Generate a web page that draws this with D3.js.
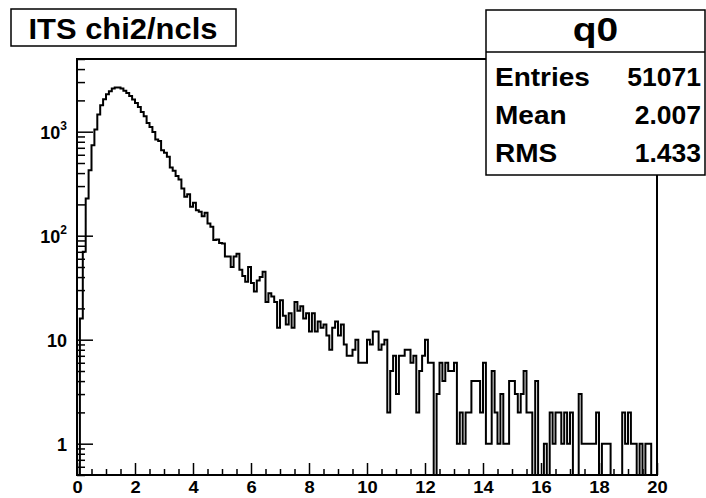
<!DOCTYPE html>
<html>
<head>
<meta charset="utf-8">
<script src="https://cdn.jsdelivr.net/npm/d3@7"></script>
<style>
  body { margin: 0; background: #fff; }
  text { font-family: "Liberation Sans", Arial, sans-serif; font-weight: bold; fill: #000; }
</style>
</head>
<body>
<svg id="chart" width="706" height="498"></svg>
<script>
// histogram q0: 200 bins from 0 to 20
const xLimits = [0, 20];
const counts = [
  0, 16, 70, 228, 426, 742, 1050, 1463, 1798, 2054,
  2294, 2450, 2600, 2660, 2660, 2600, 2470, 2360, 2210, 2035,
  1890, 1730, 1550, 1408, 1215, 1112, 995, 840, 815, 664,
  626, 573, 453, 421, 374, 347, 285, 237, 251, 190,
  207, 176, 170, 154, 166, 131, 122, 91, 92, 85,
  84, 63, 63, 50, 63, 67, 47, 41, 36, 50,
  35, 29, 37, 40, 45, 23, 28, 26, 23, 13,
  24, 17, 14, 18, 13, 23, 19, 21, 16, 18,
  12, 18, 12, 15, 13, 14, 11, 8, 13, 15,
  11, 14, 9, 7, 7, 8, 10, 6, 6, 6,
  10, 9, 12, 12, 8, 9, 10, 2, 5, 7,
  3, 7, 7, 8, 8, 6, 7, 2, 5, 7,
  10, 6, 6, 0, 3, 6, 4, 6, 5, 5,
  6, 1, 2, 1, 2, 2, 4, 4, 4, 2,
  6, 1, 1, 5, 2, 1, 3, 1, 1, 4,
  4, 3, 2, 3, 5, 2, 2, 0, 4, 0,
  0, 1, 0, 2, 1, 2, 2, 1, 2, 1,
  2, 0, 0, 3, 1, 1, 1, 1, 1, 2,
  0, 1, 1, 1, 0, 0, 0, 0, 2, 1,
  2, 1, 1, 0, 1, 0, 1, 1, 0, 0
];
const yLimits = [0.5, 5000];
const xTickLabels = [0, 2, 4, 6, 8, 10, 12, 14, 16, 18, 20];
const yTickValues = [1, 10, 100, 1000];
const titleText = "ITS chi2/ncls";
const statsTitle = "q0";
const statsNames = ["Entries", "Mean", "RMS"];
const statsValues = ["51071", "2.007", "1.433"];

const svg = d3.select("#chart");
const frame = { left: 77, right: 657, top: 59, bottom: 475 };

const x = d3.scaleLinear().domain(xLimits).range([frame.left, frame.right]);
const y = d3.scaleLog().domain(yLimits).range([frame.bottom, frame.top]);

const binW = (xLimits[1] - xLimits[0]) / counts.length;

// the ROOT font is a little wider than Liberation Sans, stretch text a bit
function widen(sel, k) {
  sel.each(function () {
    const w = this.getComputedTextLength();
    d3.select(this).attr("textLength", w * k).attr("lengthAdjust", "spacingAndGlyphs");
  });
}

// step outline, empty bins drop to the bottom of the frame
const pts = [[x(xLimits[0]), y(yLimits[0])]];
counts.forEach((c, i) => {
  const v = Math.max(c, yLimits[0]);
  pts.push([x(i * binW), y(v)]);
  pts.push([x((i + 1) * binW), y(v)]);
});
pts.push([x(xLimits[1]), y(yLimits[0])]);

svg.append("path")
  .attr("d", d3.line()(pts))
  .attr("fill", "none")
  .attr("stroke", "#000")
  .attr("stroke-width", 2)
  .attr("stroke-linejoin", "miter");

// x axis: major ticks every 2, minor every 0.5, drawn inward
const xMinor = d3.range(0, 20.01, 0.5).filter(d => xTickLabels.indexOf(d) < 0);
svg.append("g")
  .attr("transform", "translate(0," + frame.bottom + ")")
  .call(d3.axisBottom(x).tickValues(xMinor).tickSize(-6).tickFormat(""))
  .call(g => g.select(".domain").remove())
  .selectAll("line").attr("stroke-width", 1.5);

const gx = svg.append("g")
  .attr("transform", "translate(0," + frame.bottom + ")")
  .call(d3.axisBottom(x).tickValues(xTickLabels).tickSize(-12).tickPadding(6).tickFormat(d3.format("d")));
gx.select(".domain").remove();
gx.selectAll("line").attr("stroke-width", 1.5);
gx.selectAll("text").attr("font-size", 17).attr("dy", "0.72em");
widen(gx.selectAll("text"), 1.08);

// y axis (log): decades with small ticks at 2..9
const yMinor = [];
[0.1, 1, 10, 100, 1000].forEach(dec => {
  for (let k = 2; k <= 9; k++) {
    const v = dec * k;
    if (v >= yLimits[0] && v <= yLimits[1]) yMinor.push(v);
  }
});
svg.append("g")
  .attr("transform", "translate(" + frame.left + ",0)")
  .call(d3.axisLeft(y).tickValues(yMinor).tickSize(-8).tickFormat(""))
  .call(g => g.select(".domain").remove())
  .selectAll("line").attr("stroke-width", 1.5);

const gy = svg.append("g")
  .attr("transform", "translate(" + frame.left + ",0)")
  .call(d3.axisLeft(y).tickValues(yTickValues).tickSize(-16).tickPadding(10).tickFormat(""));
gy.select(".domain").remove();
gy.selectAll("line").attr("stroke-width", 1.5);
gy.selectAll(".tick text").each(function (d) {
  const t = d3.select(this).attr("font-size", 18).attr("dy", "0.36em");
  const e = Math.round(Math.log10(d));
  if (e < 2) {
    t.text(String(d));
  } else {
    t.append("tspan").text("10");
    t.append("tspan").attr("font-size", 12).attr("dy", "-0.75em").text(String(e));
  }
});

// frame
svg.append("rect")
  .attr("x", frame.left).attr("y", frame.top)
  .attr("width", frame.right - frame.left).attr("height", frame.bottom - frame.top)
  .attr("fill", "none").attr("stroke", "#000").attr("stroke-width", 2);

// title box
const tb = svg.append("g");
tb.append("rect")
  .attr("x", 11).attr("y", 9).attr("width", 225).attr("height", 37)
  .attr("fill", "#fff").attr("stroke", "#000").attr("stroke-width", 1.5);
tb.append("text")
  .attr("x", 123).attr("y", 39).attr("text-anchor", "middle")
  .attr("font-size", 30).text(titleText)
  .call(widen, 1.03);

// stats box
const sb = svg.append("g");
const sbx = 486, sby = 10, sbw = 219, sbh = 165, headH = 42;
sb.append("rect")
  .attr("x", sbx).attr("y", sby).attr("width", sbw).attr("height", sbh)
  .attr("fill", "#fff").attr("stroke", "#000").attr("stroke-width", 1.5);
sb.append("line")
  .attr("x1", sbx).attr("x2", sbx + sbw)
  .attr("y1", sby + headH).attr("y2", sby + headH)
  .attr("stroke", "#000").attr("stroke-width", 1.5);
sb.append("text")
  .attr("x", sbx + sbw / 2).attr("y", sby + 31).attr("text-anchor", "middle")
  .attr("font-size", 33).text(statsTitle)
  .call(widen, 1.18);

const rowY = d3.scalePoint().domain(statsNames).range([86, 162]);
statsNames.forEach((name, i) => {
  sb.append("text")
    .attr("x", sbx + 9).attr("y", rowY(name))
    .attr("font-size", 25).text(name)
    .call(widen, 1.12);
  sb.append("text")
    .attr("x", sbx + sbw - 4).attr("y", rowY(name)).attr("text-anchor", "end")
    .attr("font-size", 25).text(statsValues[i])
    .call(widen, 1.06);
});
</script>
</body>
</html>
